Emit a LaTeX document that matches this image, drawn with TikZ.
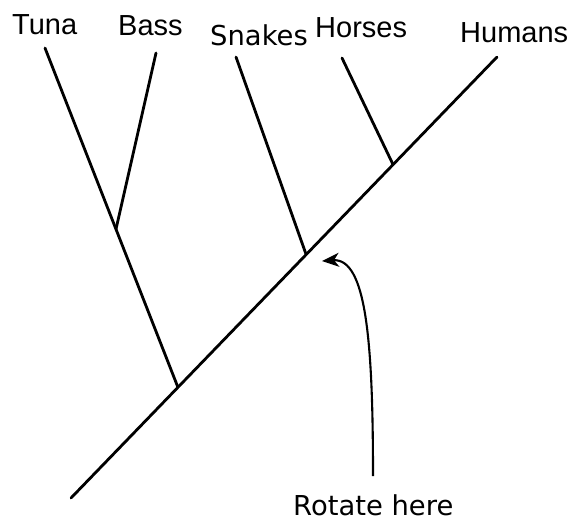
\documentclass[tikz,border=0pt]{standalone}
\usepackage{fontspec}
\setmainfont{Liberation Sans}
\newfontfamily\dvsans{DejaVu Sans}
\usetikzlibrary{arrows.meta,calc}
\begin{document}
\begin{tikzpicture}[x=1pt,y=-1pt,
  branch/.style={line width=2.8pt,line cap=round},
  taxon/.style={anchor=base west,inner sep=0pt,font=\fontsize{29}{33}\selectfont},
  taxonalt/.style={anchor=base west,inner sep=0pt,font=\dvsans\fontsize{27.4}{31}\selectfont},
  note/.style={line width=2.1pt,-{Stealth[length=17pt,width=14pt,inset=5pt]}}]
\useasboundingbox (0,0) rectangle (575,523);

% taxon labels
\node[taxon]    (tuna)   at (12,34)  {Tuna};
\node[taxon]    (bass)   at (118,35) {Bass};
\node[taxonalt] (snakes) at (210,45) {Snakes};
\node[taxon]    (horses) at (315,37) {Horses};
\node[taxon]    (humans) at (460,42) {Humans};
\node[taxonalt] (rot)    at (293,515) {Rotate here};

% branch tips
\coordinate (tTuna)   at (45,48);
\coordinate (tBass)   at (156,53);
\coordinate (tSnakes) at (236,57);
\coordinate (tHorses) at (342,58);
\coordinate (tHumans) at (497,57);
\coordinate (root)    at (71,498);

% internal nodes on the main lineage
\coordinate (nFish)   at ($(root)!0.251!(tHumans)$);
\coordinate (nSnakes) at ($(root)!0.552!(tHumans)$);
\coordinate (nHorses) at ($(root)!0.756!(tHumans)$);
\coordinate (nBass)   at ($(nFish)!0.466!(tTuna)$);

% tree
\draw[branch] (root) -- (tHumans);
\draw[branch] (nFish) -- (tTuna);
\draw[branch] (nBass) -- (tBass);
\draw[branch] (nSnakes) -- (tSnakes);
\draw[branch] (nHorses) -- (tHorses);

% rotation pointer
\coordinate (aTip) at (322,261);
\coordinate (aStart) at (373,476);
\draw[note] (aStart) .. controls (373,340) and (366,258) .. (aTip);
\end{tikzpicture}
\end{document}
